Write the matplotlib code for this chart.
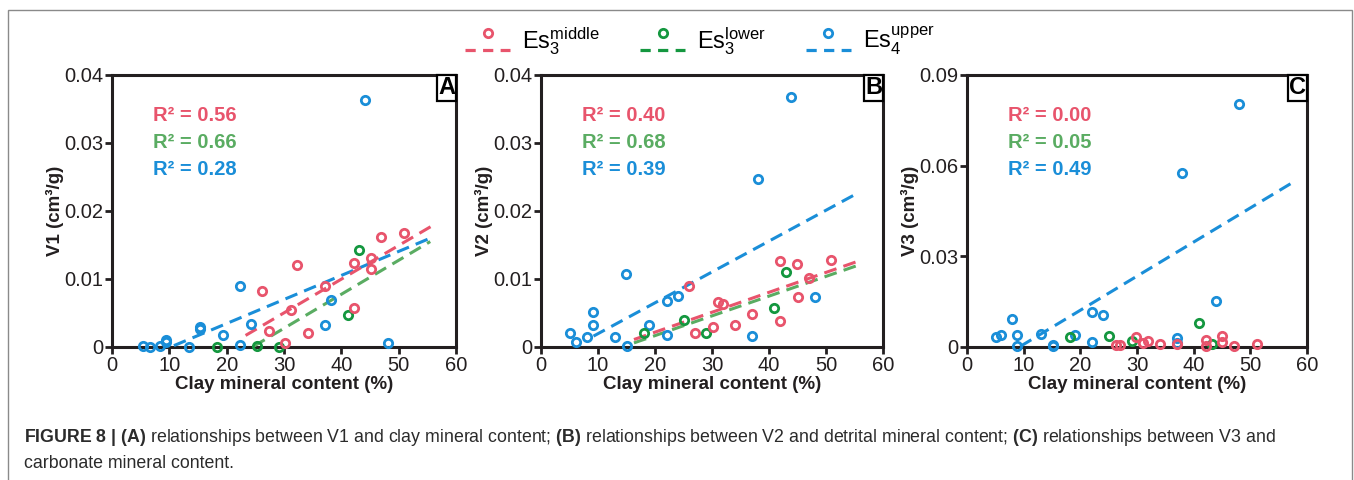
import matplotlib.pyplot as plt
from matplotlib.legend_handler import HandlerBase
from matplotlib.lines import Line2D
from matplotlib.patches import Rectangle

plt.rcParams['font.family'] = ['Liberation Sans', 'DejaVu Sans']
plt.rcParams['mathtext.fontset'] = 'custom'
plt.rcParams['mathtext.rm'] = 'Liberation Sans'
plt.rcParams['mathtext.it'] = 'Liberation Sans:italic'
plt.rcParams['mathtext.bf'] = 'Liberation Sans:bold'

# ---- data ----
# series order everywhere: Es3 middle, Es3 lower, Es4 upper

# panel A : V1
a_mid_x = [26.2, 32.2, 31.2, 27.3, 30.2, 34.2, 37.2, 42.2, 42.2, 45.1, 45.1, 47.0, 51.0]
a_mid_y = [0.0083, 0.0120, 0.0055, 0.0023, 0.0006, 0.0020, 0.0090, 0.0124, 0.0057, 0.0131, 0.0115, 0.0162, 0.0168]
a_low_x = [18.3, 25.3, 29.2, 41.1, 43.1]
a_low_y = [0.0, 0.0001, 0.0, 0.0047, 0.0142]
a_up_x = [5.4, 6.6, 8.4, 9.5, 9.5, 13.5, 15.4, 15.4, 19.3, 22.3, 22.3, 24.2, 37.2, 38.2, 44.2, 48.1]
a_up_y = [0.0002, 0.0, 0.0001, 0.0011, 0.0007, 0.0, 0.0030, 0.0027, 0.0018, 0.0090, 0.0003, 0.0034, 0.0032, 0.0069, 0.0363, 0.0006]
a_fit_x = [[23.3, 56.4], [24.7, 55.5], [10.8, 55.5]]
a_fit_y = [[0.0017, 0.0181], [0.0001, 0.0155], [0.0002, 0.0160]]
a_r2 = ['0.56', '0.66', '0.28']

# panel B : V2
b_mid_x = [26.0, 31.0, 32.0, 27.0, 30.1, 34.0, 37.0, 42.0, 42.0, 44.9, 45.0, 47.0, 50.9]
b_mid_y = [0.0090, 0.0066, 0.0063, 0.0021, 0.0030, 0.0032, 0.0048, 0.0127, 0.0038, 0.0122, 0.0073, 0.0101, 0.0128]
b_low_x = [18.0, 25.0, 28.9, 40.9, 42.9]
b_low_y = [0.0021, 0.0040, 0.0021, 0.0058, 0.0111]
b_up_x = [5.0, 6.1, 8.1, 9.1, 9.1, 13.0, 14.9, 15.0, 19.0, 22.1, 22.1, 24.0, 37.0, 38.0, 43.9, 48.0]
b_up_y = [0.0021, 0.0007, 0.0015, 0.0051, 0.0032, 0.0014, 0.0107, 0.0002, 0.0033, 0.0068, 0.0018, 0.0075, 0.0016, 0.0247, 0.0367, 0.0074]
b_fit_x = [[16.3, 55.9], [16.3, 55.9], [9.2, 55.7]]
b_fit_y = [[0.0011, 0.0127], [0.0006, 0.0121], [0.0016, 0.0227]]
b_r2 = ['0.40', '0.68', '0.39']

# panel C : V3
c_mid_x = [26.3, 27.0, 29.9, 31.1, 32.0, 34.1, 37.0, 42.1, 42.1, 45.0, 45.0, 47.2, 51.1]
c_mid_y = [0.0008, 0.0006, 0.0033, 0.0013, 0.0019, 0.0010, 0.0010, 0.0024, 0.0004, 0.0035, 0.0015, 0.0004, 0.0010]
c_low_x = [18.1, 25.0, 29.1, 41.0, 43.2]
c_low_y = [0.0032, 0.0037, 0.0019, 0.0079, 0.0011]
c_up_x = [5.2, 6.0, 8.0, 8.9, 8.9, 13.0, 15.1, 15.1, 19.1, 22.0, 22.0, 24.0, 37.0, 37.0, 38.0, 44.0, 48.0]
c_up_y = [0.0032, 0.0040, 0.0094, 0.0040, 0.0004, 0.0042, 0.0008, 0.0002, 0.0040, 0.0115, 0.0015, 0.0105, 0.0029, 0.0013, 0.0575, 0.0152, 0.0803]
c_fit_x = [None, None, [9.4, 57.7]]
c_fit_y = [None, None, [0.0002, 0.0547]]
c_r2 = ['0.00', '0.05', '0.49']

x_ticks = [0, 10, 20, 30, 40, 50, 60]
ab_yticks = [0, 0.01, 0.02, 0.03, 0.04]
ab_ylabels = ['0', '0.01', '0.02', '0.03', '0.04']
c_yticks = [0, 0.03, 0.06, 0.09]
c_ylabels = ['0', '0.03', '0.06', '0.09']

series_names = [r'Es$_{3}^{\mathrm{middle}}$', r'Es$_{3}^{\mathrm{lower}}$', r'Es$_{4}^{\mathrm{upper}}$']
marker_colors = ['#e8546c', '#14973f', '#1a8ed8']
line_colors = ['#e8546c', '#5aac62', '#1a8ed8']
ink = '#231f20'


class CircleAboveDash(HandlerBase):
    # legend key: dashed line with the open circle sitting above it
    def create_artists(self, legend, orig_handle, xdescent, ydescent, width, height, fontsize, trans):
        c = orig_handle.get_color()
        dash = Line2D([-xdescent, -xdescent + width], [-0.1 * height] * 2, color=c, lw=2.3,
                      dashes=(3.2, 2.3))
        ring = Line2D([-xdescent + width / 2], [0.95 * height], ls='none', marker='o', ms=6,
                      mew=2.0, mfc='none', mec=c)
        dash.set_transform(trans)
        ring.set_transform(trans)
        return [dash, ring]


def draw_panel(ax, pts, fits_x, fits_y, r2, letter, ylabel, yticks, ylabels):
    # points, upper first so that red sits on top
    for i in [2, 1, 0]:
        x, y = pts[i]
        ax.plot(x, y, ls='none', marker='o', ms=6, mew=2.0, mfc='none', mec=marker_colors[i],
                clip_on=False, zorder=3)
    for i in [2, 1, 0]:
        if fits_x[i] is None:
            continue
        ax.plot(fits_x[i], fits_y[i], color=line_colors[i], lw=2.2, dashes=(4.2, 2.4), zorder=2.8)

    for i in range(3):
        ax.text(0.12, 0.85 - i * 0.099, 'R² = ' + r2[i], transform=ax.transAxes, color=line_colors[i],
                fontsize=14.5, fontweight='bold', va='center', ha='left')

    ax.text(0.997, 0.995, letter, transform=ax.transAxes, ha='right', va='top', fontsize=17,
            fontweight='bold', color='black',
            bbox=dict(boxstyle='square,pad=0.05', fc='white', ec='black', lw=1.6))

    ax.set_xlim(0, 60)
    ax.set_ylim(yticks[0], yticks[-1])
    ax.set_xticks(x_ticks)
    ax.set_xticklabels([str(t) for t in x_ticks])
    ax.set_yticks(yticks)
    ax.set_yticklabels(ylabels)
    ax.tick_params(direction='out', length=5, width=2, colors=ink, labelsize=14.5, pad=1.5)
    for s in ax.spines.values():
        s.set_linewidth(2.2)
        s.set_color(ink)
    ax.set_xlabel('Clay mineral content (%)', fontsize=13.5, fontweight='bold', color=ink, labelpad=1)
    ax.set_ylabel(ylabel, fontsize=13.5, fontweight='bold', color=ink, labelpad=0)


fig = plt.figure(figsize=(13.54, 4.8), dpi=100)

ax_a = fig.add_axes([0.0827, 0.2771, 0.2541, 0.5667])
ax_b = fig.add_axes([0.3996, 0.2771, 0.2526, 0.5667])
ax_c = fig.add_axes([0.7142, 0.2771, 0.2511, 0.5667])

draw_panel(ax_a, [(a_mid_x, a_mid_y), (a_low_x, a_low_y), (a_up_x, a_up_y)], a_fit_x, a_fit_y, a_r2,
           'A', 'V1 (cm³/g)', ab_yticks, ab_ylabels)
draw_panel(ax_b, [(b_mid_x, b_mid_y), (b_low_x, b_low_y), (b_up_x, b_up_y)], b_fit_x, b_fit_y, b_r2,
           'B', 'V2 (cm³/g)', ab_yticks, ab_ylabels)
draw_panel(ax_c, [(c_mid_x, c_mid_y), (c_low_x, c_low_y), (c_up_x, c_up_y)], c_fit_x, c_fit_y, c_r2,
           'C', 'V3 (cm³/g)', c_yticks, c_ylabels)

handles = [Line2D([], [], color=c) for c in marker_colors]
fig.legend(handles, series_names, loc='center', bbox_to_anchor=(0.517, 0.915), ncol=3, frameon=False,
           fontsize=17, handlelength=1.9, handletextpad=0.5, columnspacing=1.7,
           handler_map={Line2D: CircleAboveDash()})

# frame around the figure
fig.add_artist(Rectangle((8 / 1354, -0.1), 1344 / 1354, 1.079, transform=fig.transFigure, fill=False,
                         ec='#8a8a8a', lw=1.0, clip_on=False))

cap_color = '#2b2b2b'
fig.text(24 / 1354, 0.0875,
         r'$\mathbf{FIGURE\ 8\ |\ (A)}$ relationships between V1 and clay mineral content; '
         r'$\mathbf{(B)}$ relationships between V2 and detrital mineral content; '
         r'$\mathbf{(C)}$ relationships between V3 and',
         fontsize=12.8, color=cap_color, va='center', ha='left')
fig.text(24 / 1354, 0.035, 'carbonate mineral content.', fontsize=12.8, color=cap_color,
         va='center', ha='left')

plt.savefig('out.png', dpi=100)
